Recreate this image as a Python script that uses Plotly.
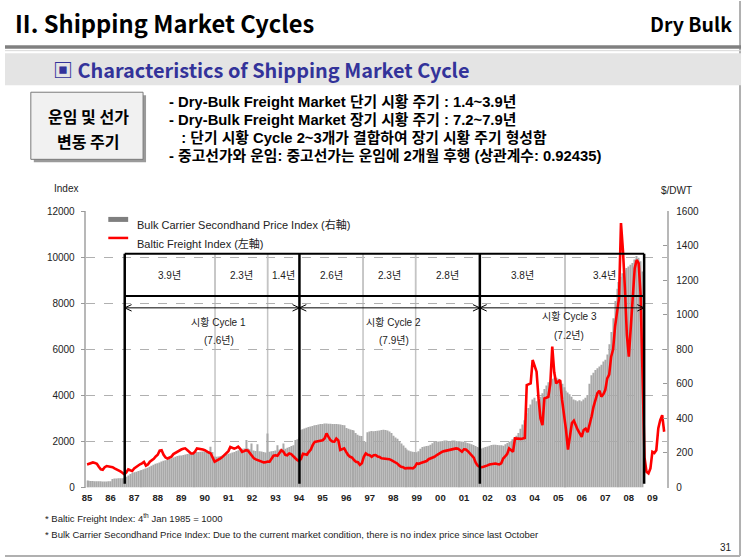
import plotly.graph_objects as go

W, H = 743, 557
FONT = "Noto Sans CJK KR"
LFONT = "Liberation Sans, Noto Sans CJK KR"

# vertical compensation observed in the rendering pipeline
Y_OFF, Y_SCALE = 4.9, 0.977


def px(x):
    return x / W


def py(y):
    return 1 - ((y - Y_OFF) / Y_SCALE) / H


# ---------------- data ----------------
year_labels = ['85', '86', '87', '88', '89', '90', '91', '92', '93', '94', '95', '96',
               '97', '98', '99', '00', '01', '02', '03', '04', '05', '06', '07', '08', '09']

# Baltic Freight Index (left axis), monthly from Jan 1985
bfi = [
    1000, 1040, 1060, 1090, 1070, 1030, 900, 790, 770, 880, 930, 920,        # 85
    900, 880, 830, 790, 770, 700, 640, 570, 650, 790, 750, 720,              # 86
    830, 900, 970, 1010, 1050, 1110, 950, 1000, 1120, 1180, 1250, 1350,      # 87
    1420, 1600, 1620, 1420, 1300, 1260, 1300, 1340, 1450, 1500, 1580, 1630,  # 88
    1650, 1680, 1700, 1630, 1560, 1480, 1480, 1560, 1700, 1690, 1680, 1650,  # 89
    1620, 1560, 1520, 1480, 1300, 1120, 1170, 1200, 1260, 1330, 1400, 1480,  # 90
    1580, 1760, 1720, 1690, 1720, 1770, 1680, 1550, 1580, 1620, 1600, 1480,  # 91
    1400, 1270, 1220, 1190, 1150, 1110, 1090, 1100, 1130, 1120, 1250, 1380,  # 92
    1400, 1380, 1500, 1620, 1560, 1420, 1400, 1480, 1450, 1340, 1280, 1200,  # 93
    1150, 1250, 1460, 1440, 1420, 1550, 1650, 1850, 1980, 2000, 2010, 2020,  # 94
    2050, 2130, 2350, 2200, 2060, 2000, 1990, 2130, 2050, 1630, 1650, 1700,  # 95
    1550, 1410, 1335, 1300, 1190, 1120, 1100, 980, 1050, 1335, 1480, 1420,   # 96
    1400, 1335, 1400, 1410, 1350, 1330, 1270, 1260, 1260, 1250, 1230, 1190,  # 97
    1150, 1080, 1045, 960, 900, 880, 828, 840, 860, 850, 828, 900,           # 98
    1045, 1030, 1060, 1100, 1118, 1150, 1230, 1263, 1300, 1335, 1400, 1450,  # 99
    1520, 1553, 1580, 1600, 1625, 1640, 1660, 1690, 1698, 1680, 1600, 1553,  # 00
    1660, 1650, 1580, 1500, 1400, 1300, 1080, 950, 898, 880, 898, 920,       # 01
    960, 1000, 1010, 1030, 1043, 1020, 1000, 1050, 1260, 1350, 1450, 1695,   # 02
    1600, 1550, 2130, 2120, 2100, 2110, 2130, 2150, 4450, 4480, 4520, 5535,  # 03
    5300, 5030, 3870, 3000, 2710, 3870, 3900, 3940, 4500, 6115, 5000, 4520,  # 04
    4600, 4665, 3800, 3200, 2500, 1650, 2300, 2800, 2900, 2650, 2500, 2350,  # 05
    2200, 2500, 2560, 2400, 2700, 3070, 3500, 3800, 4100, 4200, 3950, 4050,  # 06
    4230, 4740, 4900, 5680, 6000, 7000, 7640, 8220, 11480, 10300, 8650, 6620,  # 07
    5680, 7060, 8100, 9520, 9880, 9740, 8360, 5200, 1300, 680, 610, 830,     # 08
    1550, 1500, 1620, 2560, 2930, 3140, 2420,                                # 09
]

# Bulk Carrier Secondhand Price Index ($/DWT, right axis), monthly from Jan 1985
price = [
    40, 39, 38, 38, 37, 37, 36, 36, 35, 35, 35, 36,              # 85
    36, 50, 52, 52, 53, 53, 54, 56, 62, 70, 78, 85,              # 86
    88, 92, 95, 98, 102, 106, 110, 115, 120, 126, 132, 138,      # 87
    140, 145, 150, 155, 158, 162, 166, 170, 174, 178, 182, 185,  # 88
    186, 188, 191, 194, 197, 199, 201, 203, 205, 206, 207, 208,  # 89
    208, 210, 212, 236, 205, 180, 178, 180, 183, 186, 188, 192,  # 90
    195, 198, 202, 206, 212, 216, 220, 224, 226, 275, 228, 222,  # 91
    255, 215, 212, 250, 210, 208, 205, 203, 313, 207, 210, 212,  # 92
    215, 245, 220, 225, 255, 225, 230, 235, 240, 245, 275, 280,  # 93
    290, 333, 338, 342, 346, 350, 353, 356, 360, 362, 365, 367,  # 94
    368, 370, 370, 369, 369, 368, 368, 367, 366, 365, 362, 360,  # 95
    345, 340, 336, 333, 330, 315, 305, 300, 298, 270, 265, 320,  # 96
    325, 327, 326, 327, 328, 330, 333, 335, 333, 330, 325, 315,  # 97
    300, 290, 282, 270, 255, 243, 230, 220, 214, 210, 207, 205,  # 98
    204, 210, 225, 235, 238, 240, 242, 248, 256, 263, 265, 266,  # 99
    268, 270, 272, 272, 270, 270, 272, 272, 270, 268, 268, 266,  # 00
    265, 262, 258, 255, 250, 246, 240, 235, 228, 226, 230, 235,  # 01
    238, 242, 246, 248, 247, 246, 245, 244, 242, 250, 258, 265,  # 02
    270, 280, 290, 300, 315, 340, 365, 390, 430, 460, 480, 510,  # 03
    520, 500, 505, 525, 545, 570, 590, 610, 620, 630, 635, 635,  # 04
    630, 615, 600, 580, 560, 550, 540, 525, 510, 505, 500, 505,  # 05
    500, 510, 520, 535, 600, 650, 665, 680, 690, 700, 710, 730,  # 06
    740, 770, 830, 900, 980, 1080, 1150, 1190, 1220, 1240, 1260, 1270,  # 07
    1280, 1290, 1300, 1320, 1340, 1330, 1310, 1250,              # 08
]

months_bfi = list(range(len(bfi)))
months_price = list(range(len(price)))
tick_months = [12 * i for i in range(len(year_labels))]

# cycle annotation (months since Jan 1985)
long_bounds = [19.2, 108.2, 200.1, 283.8]
short_bounds = [65.2, 92.0, 140.6, 167.4, 243.5]
short_labels = ['3.9년', '2.3년', '1.4년', '2.6년', '2.3년', '2.8년', '3.8년', '3.4년']
long_labels = ['시황 Cycle 1', '시황 Cycle 2', '시황 Cycle 3']
long_years = ['(7.6년)', '(7.9년)', '(7.2년)']

# ---------------- figure ----------------
fig = go.Figure()
fig.add_trace(go.Bar(x=months_price, y=price, yaxis='y',
                     marker=dict(color='#a9a9a9', line=dict(width=0)),
                     showlegend=False, hoverinfo='skip'))
fig.add_trace(go.Scatter(x=months_bfi, y=bfi, yaxis='y2', mode='lines',
                         line=dict(color='#ff0000', width=2.6),
                         showlegend=False, hoverinfo='skip'))

XL, XR = 82, 666
YT, YB = 209.7, 485.7

tickfont = dict(family=LFONT, size=10, color='#222222')

fig.update_layout(
    width=W, height=H,
    margin=dict(l=0, r=0, t=0, b=0),
    paper_bgcolor='white', plot_bgcolor='rgba(0,0,0,0)',
    bargap=0.4,
    xaxis=dict(domain=[px(XL), px(XR)], range=[-0.3, 295.2],
               tickmode='array', tickvals=tick_months, ticktext=year_labels,
               tickfont=dict(family=LFONT, size=9.5, color='#222222', weight='bold'),
               ticklabelstandoff=3,
               showgrid=False, zeroline=False, showline=False, ticks=''),
    yaxis=dict(domain=[py(YB), py(YT)], range=[0, 1600], dtick=200, tickformat='d',
               side='right', showgrid=False, zeroline=False,
               showline=True, linecolor='#b8b8b8', linewidth=1.5,
               ticks='inside', ticklen=4, tickcolor='#999999',
               ticklabelstandoff=6, tickfont=tickfont),
    yaxis2=dict(range=[0, 12000], dtick=2000, tickformat='d', overlaying='y', side='left',
                showgrid=True, gridcolor='#b0b0b0', griddash='dash', gridwidth=1,
                zeroline=False, showline=True, linecolor='#b8b8b8', linewidth=1.5,
                ticks='outside', ticklen=4, tickcolor='#999999',
                ticklabelstandoff=4, tickfont=tickfont),
)

shapes = []
# slide frame
shapes.append(dict(type='line', xref='paper', yref='paper', x0=px(740), x1=px(740), y0=py(0), y1=py(554),
                   line=dict(color='#b0b0b0', width=2)))
shapes.append(dict(type='line', xref='paper', yref='paper', x0=px(0), x1=px(740), y0=py(554), y1=py(554),
                   line=dict(color='#b0b0b0', width=2)))
# header rules
shapes.append(dict(type='rect', xref='paper', yref='paper', x0=px(0), x1=px(741), y0=py(44), y1=py(47.5),
                   fillcolor='#808080', line=dict(width=0)))
shapes.append(dict(type='line', xref='paper', yref='paper', x0=px(0), x1=px(741), y0=py(49.5), y1=py(49.5),
                   line=dict(color='#d8d8d8', width=1)))
# sub-title band
shapes.append(dict(type='rect', xref='paper', yref='paper', x0=px(0), x1=px(741), y0=py(52), y1=py(84),
                   fillcolor='#e4e4e4', line=dict(width=0)))
# left box with shadow
shapes.append(dict(type='rect', xref='paper', yref='paper', x0=px(29), x1=px(142), y0=py(94), y1=py(161),
                   fillcolor='#9a9a9a', line=dict(width=0)))
shapes.append(dict(type='rect', xref='paper', yref='paper', x0=px(26), x1=px(139), y0=py(91), y1=py(158),
                   fillcolor='#f1f1f1', line=dict(color='#7a7a7a', width=1)))
# legend keys
shapes.append(dict(type='line', xref='paper', yref='paper', x0=px(104), x1=px(124), y0=py(218), y1=py(218),
                   line=dict(color='#7f7f7f', width=5)))
shapes.append(dict(type='line', xref='paper', yref='paper', x0=px(104), x1=px(124), y0=py(236.5), y1=py(236.5),
                   line=dict(color='#ff0000', width=2.5)))

BOX_TOP, ROW_BOT, ARROW_Y = 10150, 8320, 7800
for b in short_bounds:
    shapes.append(dict(type='line', xref='x', yref='y2', x0=b, x1=b, y0=0, y1=BOX_TOP,
                       line=dict(color='#c4c4c4', width=1.5), layer='below'))
    shapes.append(dict(type='line', xref='x', yref='y2', x0=b, x1=b, y0=ROW_BOT, y1=BOX_TOP,
                       line=dict(color='#c4c4c4', width=1.5), layer='above'))
for b in long_bounds:
    shapes.append(dict(type='line', xref='x', yref='y2', x0=b, x1=b, y0=160, y1=BOX_TOP,
                       line=dict(color='black', width=2.5), layer='above'))
for yy in (BOX_TOP, ROW_BOT):
    shapes.append(dict(type='line', xref='x', yref='y2', x0=long_bounds[0], x1=long_bounds[-1], y0=yy, y1=yy,
                       line=dict(color='black', width=2), layer='above'))
DX, DY = 3.5, 140
for a, b in zip(long_bounds[:-1], long_bounds[1:]):
    shapes.append(dict(type='line', xref='x', yref='y2', x0=a, x1=b, y0=ARROW_Y, y1=ARROW_Y,
                       line=dict(color='black', width=1), layer='above'))
    shapes.append(dict(type='path', xref='x', yref='y2',
                       path=f'M {a + DX} {ARROW_Y + DY} L {a} {ARROW_Y} L {a + DX} {ARROW_Y - DY}',
                       line=dict(color='black', width=1), layer='above'))
    shapes.append(dict(type='path', xref='x', yref='y2',
                       path=f'M {b - DX} {ARROW_Y + DY} L {b} {ARROW_Y} L {b - DX} {ARROW_Y - DY}',
                       line=dict(color='black', width=1), layer='above'))
fig.update_layout(shapes=shapes)

ann = []


def note(x, y, text, size, color='black', bold=False, anchor='left', family=FONT):
    ann.append(dict(xref='paper', yref='paper', x=px(x), y=py(y), text=text, showarrow=False,
                    xanchor=anchor, yanchor='middle',
                    font=dict(family=family, size=size, color=color, weight='bold' if bold else 'normal')))


note(8, 22, 'II. Shipping Market Cycles', 23.7, bold=True)
note(734, 22, 'Dry Bulk', 19.5, bold=True, anchor='right')
note(46, 68, '▣ Characteristics of Shipping Market Cycle', 19.9, color='#33339a', bold=True)
note(84, 115, '운임 및 선가', 16, bold=True, anchor='center')
note(84, 140, '변동 주기', 16, bold=True, anchor='center')
note(163, 101, '- Dry-Bulk Freight Market 단기 시황 주기 : 1.4~3.9년', 14.8, bold=True, family=LFONT)
note(163, 119, '- Dry-Bulk Freight Market 장기 시황 주기 : 7.2~7.9년', 14.8, bold=True, family=LFONT)
note(163, 137, '   : 단기 시황 Cycle 2~3개가 결합하여 장기 시황 주기 형성함', 14.8, bold=True, family=LFONT)
note(163, 155, '- 중고선가와 운임: 중고선가는 운임에 2개월 후행 (상관계수: 0.92435)', 14.8, bold=True, family=LFONT)
note(61, 187, 'Index', 10, color='#222222', anchor='center', family=LFONT)
note(676, 189, '$/DWT', 10, color='#222222', anchor='center', family=LFONT)
note(131, 223, 'Bulk Carrier Secondhand Price Index (右軸)', 11, color='#222222', family=LFONT)
note(131, 242, 'Baltic Freight Index (左軸)', 11, color='#222222', family=LFONT)
note(38, 516, '* Baltic Freight Index: 4<sup>th</sup> Jan 1985 = 1000', 9.5, color='#222222', family=LFONT)
note(38, 533, '* Bulk Carrier Secondhand Price Index: Due to the current market condition, '
     'there is no index price since last October', 9.5, color='#222222', family=LFONT)
note(734, 546, '31', 10, color='#222222', anchor='right', family=LFONT)

edges = sorted(long_bounds + short_bounds)
for (a, b), lab in zip(zip(edges[:-1], edges[1:]), short_labels):
    ann.append(dict(xref='x', yref='y2', x=(a + b) / 2, y=9200, text=lab, showarrow=False,
                    font=dict(family=LFONT, size=10, color='#222222')))
long_pos = [(67.2, 7160, 6380), (156.2, 7160, 6380), (245.7, 7420, 6600)]
for (xm, y1, y2), lab, yrs in zip(long_pos, long_labels, long_years):
    ann.append(dict(xref='x', yref='y2', x=xm, y=y1, text=lab, showarrow=False,
                    font=dict(family=LFONT, size=10, color='#222222')))
    ann.append(dict(xref='x', yref='y2', x=xm, y=y2, text=yrs, showarrow=False,
                    font=dict(family=LFONT, size=10, color='#222222')))

fig.update_layout(annotations=ann)
fig.write_html('out.html')
